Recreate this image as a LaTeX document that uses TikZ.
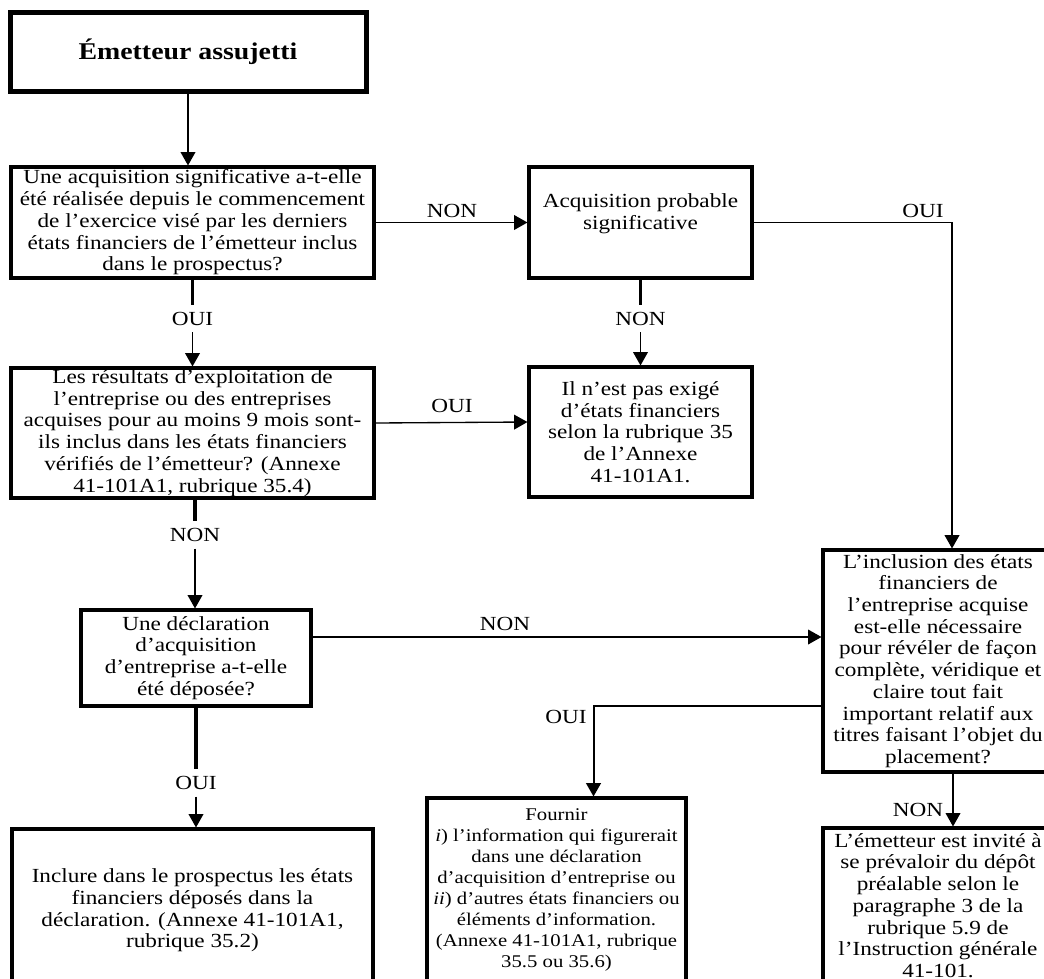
\documentclass[tikz,border=0pt]{standalone}
\usepackage{fontspec}
\setmainfont{Liberation Serif}[FakeStretch=1.16]
\usetikzlibrary{arrows.meta,calc}
\newcommand\bodyfont{\fontsize{15}{16.3}\selectfont}
\newcommand\smallbodyfont{\fontsize{13.4}{15.75}\selectfont}
\newcommand\titlefont{\fontsize{18}{20}\selectfont\bfseries}
\tikzset{
  box/.style={draw, line width=2.3pt, align=center, inner sep=0pt, font=\bodyfont},
  titlebox/.style={draw, line width=3.75pt, align=center, inner sep=0pt, font=\titlefont},
  lab/.style={inner sep=5pt, font=\bodyfont},
  arr/.style={-{Triangle[length=10pt,width=11pt]}, line width=1pt},
  stub/.style={line width=2.3pt},
}
\begin{document}
\begin{tikzpicture}[x=0.75pt,y=-0.75pt]
\useasboundingbox (0,0) rectangle (1044,978);

% boxes
\node[titlebox, minimum width=267pt, minimum height=59.25pt] (T) at (188,51.5) {Émetteur assujetti};

\node[box, minimum width=272.25pt, minimum height=83.25pt] (Q1) at (192.5,222.5)
 {Une acquisition significative a-t-elle\\été réalisée depuis le commencement\\de l’exercice visé par les derniers\\états financiers de l’émetteur inclus\\dans le prospectus?};

\node[box, minimum width=167.25pt, minimum height=83.25pt] (P) at (640.5,222.5)
 {Acquisition probable\\significative\rule[-16.8pt]{0pt}{0pt}};

\node[box, minimum width=272.25pt, minimum height=97.5pt] (Q2) at (192.5,433)
 {Les résultats d’exploitation de\\l’entreprise ou des entreprises\\acquises pour au moins 9 mois sont-\\ils inclus dans les états financiers\\vérifiés de l’émetteur? (Annexe\\41-101A1, rubrique 35.4)};

\node[box, minimum width=167.25pt, minimum height=97.5pt] (N) at (640.5,432)
 {Il n’est pas exigé\\d’états financiers\\selon la rubrique 35\\de l’Annexe\\41-101A1.};

\node[box, minimum width=172.5pt, minimum height=72pt] (D) at (196,658)
 {Une déclaration\\d’acquisition\\d’entreprise a-t-elle\\été déposée?};

\node[box, minimum width=172.5pt, minimum height=166.5pt] (I) at (938,661)
 {L’inclusion des états\\financiers de\\l’entreprise acquise\\est-elle nécessaire\\pour révéler de façon\\complète, véridique et\\claire tout fait\\important relatif aux\\titres faisant l’objet du\\placement?};

\node[box, minimum width=270.75pt, minimum height=122.25pt] (F) at (192.5,910.5)
 {Inclure dans le prospectus les états\\financiers déposés dans la\\déclaration. (Annexe 41-101A1,\\rubrique 35.2)};

\node[box, font=\smallbodyfont, minimum width=194.25pt, minimum height=144pt] (G) at (556.5,894)
 {Fournir\\\textit{i}) l’information qui figurerait\\dans une déclaration\\d’acquisition d’entreprise ou\\\textit{ii}) d’autres états financiers ou\\éléments d’information.\\(Annexe 41-101A1, rubrique\\35.5 ou 35.6)\rule[-9pt]{0pt}{0pt}};

\node[box, minimum width=172.5pt, minimum height=116.25pt] (H) at (938,905.5)
 {L’émetteur est invité à\\se prévaloir du dépôt\\préalable selon le\\paragraphe 3 de la\\rubrique 5.9 de\\l’Instruction générale\\41-101.};

% labels
\node[lab] (l1) at (452,211) {NON};
\node[lab] (l2) at (192.5,318.5) {OUI};
\node[lab] (l3) at (452,406) {OUI};
\node[lab] (l4) at (640.5,318.5) {NON};
\node[lab] (l5) at (923,211) {OUI};
\node[lab] (l6) at (195,535) {NON};
\node[lab] (l7) at (505,624) {NON};
\node[lab] (l8) at (196,783) {OUI};
\node[lab] (l9) at (566,717) {OUI};
\node[lab] (l10) at (918,810) {NON};

% connectors
\draw[arr] (T.south) -- (T.south |- Q1.north);
\draw[arr] (Q1.east) -- (P.west);
\draw[stub] (Q1.south -| l2) -- (l2.north);
\draw[arr] (l2.south) -- (l2.south |- Q2.north);
\draw[arr] ([yshift=7.5pt]Q2.east) -- ([yshift=7.5pt]N.west);
\draw[stub] (P.south -| l4) -- (l4.north);
\draw[arr] (l4.south) -- (l4.south |- N.north);
\draw[arr, line width=1.2pt] (P.east) -| ([xshift=10.5pt]I.north);
\draw[stub] (Q2.south -| l6) -- (l6.north);
\draw[arr] (l6.south) -- (l6.south |- D.north);
\coordinate (dI) at ([yshift=15.75pt]D.east);
\draw[arr] (dI) -- (dI -| I.west);
\draw[stub] (D.south -| l8) -- (l8.north);
\draw[arr] (l8.south) -- (l8.south |- F.north);
\coordinate (iG) at ([yshift=-33.75pt]I.west);
\draw[arr, line width=1.5pt] (iG) -| ([xshift=27.75pt]G.north);
\draw[arr] ([xshift=11.25pt]I.south) -- ([xshift=11.25pt]H.north);
\end{tikzpicture}
\end{document}
